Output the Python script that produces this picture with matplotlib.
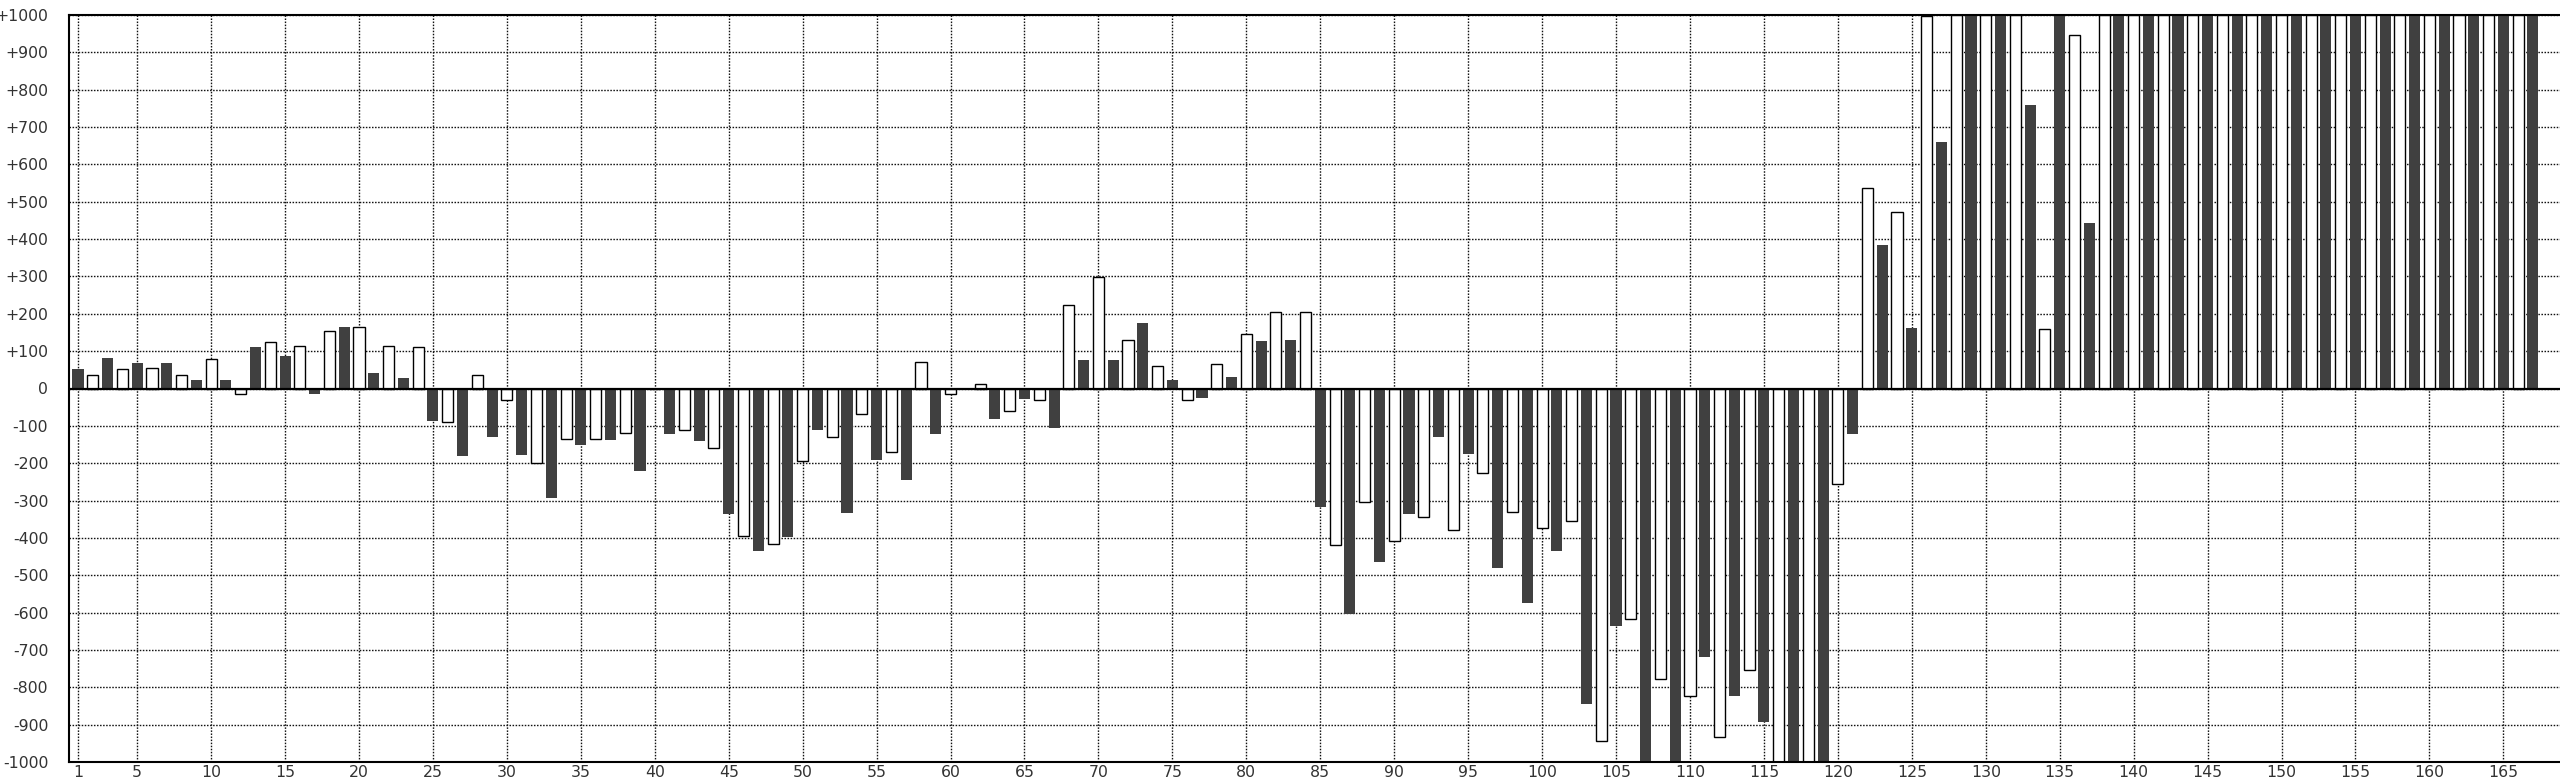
import numpy as np
import matplotlib
matplotlib.use('Agg')
import matplotlib.pyplot as plt

# values per position 1..167, odd positions drawn dark, even positions drawn white
dark_vals = [53, 82, 67, 67, 23, 23, 112, 87, -16, 165,
             42, 28, -88, -182, -131, -177, -292, -152, -137, -221,
             -122, -141, -337, -436, -397, -112, -332, -192, -246, -122,
             0, -81, -27, -106, 77, 77, 176, 22, -26, 31,
             126, 130, -316, -605, -465, -336, -131, -176, -481, -575,
             -436, -844, -635, -1000, -1000, -720, -824, -894, -1000, -1000,
             -121, 383, 161, 661, 1000, 1000, 760, 1000, 443, 1000,
             1000, 1000, 1000, 1000, 1000, 1000, 1000, 1000, 1000, 1000,
             1000, 1000, 1000, 1000]
white_vals = [36, 51, 55, 36, 80, -16, 125, 114, 154, 164,
              114, 110, -91, 36, -30, -199, -135, -135, -119, 0,
              -111, -160, -395, -415, -195, -131, -69, -169, 71, -15,
              11, -61, -31, 223, 298, 129, 60, -30, 65, 145,
              204, 204, -419, -305, -409, -343, -379, -225, -330, -374,
              -354, -943, -618, -777, -822, -933, -753, -1000, -1000, -255,
              536, 472, 997, 1000, 1000, 1000, 160, 947, 1000, 1000,
              1000, 1000, 1000, 1000, 1000, 1000, 1000, 1000, 1000, 1000,
              1000, 1000, 1000]

x_ticks = [1] + list(range(5, 166, 5))
y_ticks = list(range(-1000, 1001, 100))
y_labels = ['0' if v == 0 else '{:+d}'.format(v) for v in y_ticks]

dark_pos = np.arange(1, 2 * len(dark_vals), 2)
white_pos = np.arange(2, 2 * len(white_vals) + 1, 2)

fig = plt.figure(figsize=(25.6, 7.82), dpi=100)
ax = fig.add_axes([69 / 2560, 20 / 782, (2560 - 69) / 2560, 747 / 782])

ax.bar(dark_pos, dark_vals, width=0.75, color='#404040', linewidth=0, zorder=2)
ax.bar(white_pos, white_vals, width=0.75, color='white', edgecolor='black',
       linewidth=1.0, zorder=2)
ax.axhline(0, color='black', linewidth=1.6, zorder=3)

ax.set_xlim(0.39, 168.83)
ax.set_ylim(-1000, 1000)
ax.set_xticks(x_ticks)
ax.set_yticks(y_ticks)
ax.set_yticklabels(y_labels)

ax.set_axisbelow(True)
ax.grid(True, color='#111111', linestyle=(0, (1.1, 1.1)), linewidth=1.0)

for s in ['left', 'top', 'bottom']:
    ax.spines[s].set_linewidth(1.5)
ax.spines['right'].set_visible(False)

ax.tick_params(axis='both', length=0, labelsize=11.3, labelcolor='#333333')
ax.tick_params(axis='y', pad=15)
ax.tick_params(axis='x', pad=2)

fig.savefig('out.png', dpi=100)
